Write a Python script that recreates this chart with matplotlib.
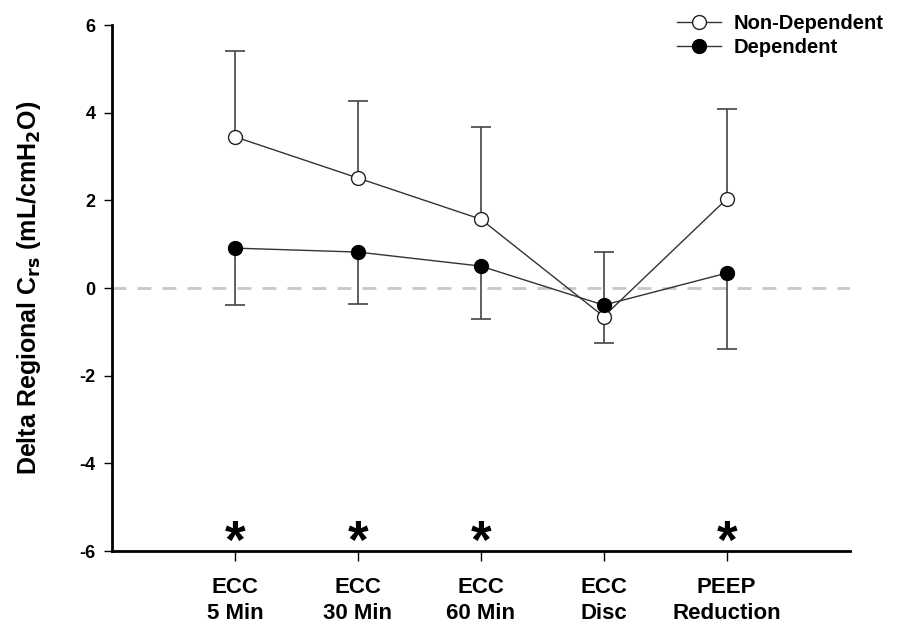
import matplotlib
matplotlib.use("Agg")
import matplotlib.pyplot as plt
import numpy as np

categories = ["ECC\n5 Min", "ECC\n30 Min", "ECC\n60 Min", "ECC\nDisc", "PEEP\nReduction"]
non_dep = [3.45, 2.51, 1.57, -0.65, 2.03]
non_dep_end = [5.40, 4.27, 3.67, -1.25, 4.08]   # end of the one-sided error bar
dep = [0.91, 0.82, 0.50, -0.39, 0.34]
dep_end = [-0.38, -0.36, -0.70, 0.82, -1.39]
sig = [True, True, True, False, True]


def main():
    plt.rcParams.update({
        "font.family": ["Liberation Sans", "DejaVu Sans"],
        "font.weight": "bold",
        "axes.unicode_minus": False,
        "mathtext.default": "bf",
    })
    x = np.arange(1, len(categories) + 1)

    fig = plt.figure(figsize=(9, 6.33), dpi=100)
    ax = fig.add_axes([0.1244, 0.1295, 0.8196, 0.831])

    ax.axhline(0, color="#c8c8c8", lw=2, ls=(0, (5, 4)), zorder=1)

    # one-sided error bars
    for mean, end in [(non_dep, non_dep_end), (dep, dep_end)]:
        ax.vlines(x, mean, end, color="#444444", lw=1.2, zorder=2)
        ax.plot(x, end, ls="none", marker="_", ms=14, mew=1.2,
                color="#444444", zorder=2)

    ax.plot(x, non_dep, color="#333333", lw=1, marker="o", ms=10,
            mfc="white", mec="#222222", mew=1, label="Non-Dependent", zorder=3)
    ax.plot(x, dep, color="#333333", lw=1, marker="o", ms=10,
            mfc="black", mec="black", label="Dependent", zorder=4)

    for xi, s in zip(x, sig):
        if s:
            ax.text(xi, -5.83, "*", ha="center", va="center", fontsize=38,
                    fontweight="bold")

    ax.set_xlim(0, 6)
    ax.set_ylim(-6, 6)
    ax.set_yticks([-6, -4, -2, 0, 2, 4, 6])
    ax.set_xticks(x)
    ax.set_xticklabels(categories, fontsize=16, fontweight="bold",
                       linespacing=1.3)
    ax.tick_params(axis="y", labelsize=13, length=6, width=1, direction="out",
                   pad=6)
    ax.tick_params(axis="x", length=7, width=1, direction="out", pad=12)
    for lab in ax.get_yticklabels():
        lab.set_fontweight("bold")

    for side in ["top", "right"]:
        ax.spines[side].set_visible(False)
    ax.spines["left"].set_linewidth(2)
    ax.spines["bottom"].set_linewidth(2)

    ax.set_ylabel("Delta Regional C$_{rs}$ (mL/cmH$_{2}$O)",
                  fontsize=18, fontweight="bold", labelpad=26)

    ax.legend(loc="upper right", bbox_to_anchor=(1.07, 1.055), frameon=False,
              fontsize=14.5, handlelength=2.2, handletextpad=0.6,
              labelspacing=0.25)

    fig.savefig("out.png", dpi=100)


if __name__ == "__main__":
    main()
